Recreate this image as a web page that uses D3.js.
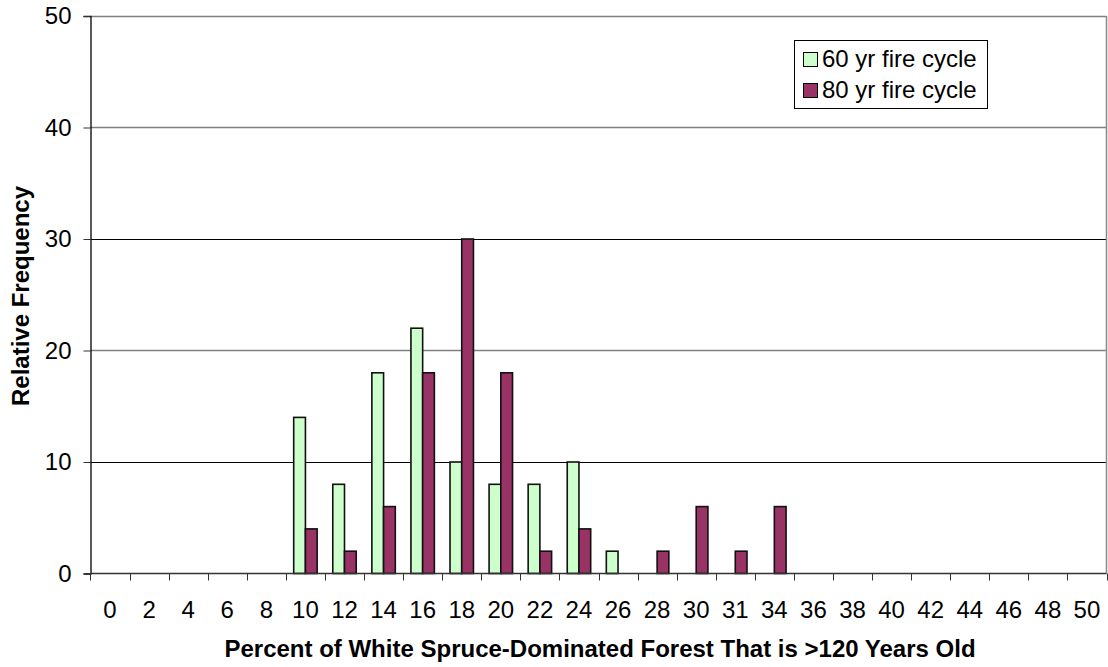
<!DOCTYPE html>
<html>
<head>
<meta charset="utf-8">
<script src="https://cdn.jsdelivr.net/npm/d3@7"></script>
<style>
  html, body { margin: 0; padding: 0; background: #fff; }
  svg { display: block; font-family: "Liberation Sans", Arial, sans-serif; }
</style>
</head>
<body>
<svg id="chart" width="1108" height="667"></svg>
<script>
// Class labels along the x axis (percent of forest older than 120 years)
const categories = ["0","2","4","6","8","10","12","14","16","18","20","22","24","26","28","30","31","34","36","38","40","42","44","46","48","50"];
// Relative frequency for each fire cycle
const cycle60 = [0,0,0,0,0,14,8,18,22,10,8,8,10,2,0,0,0,0,0,0,0,0,0,0,0,0];
const cycle80 = [0,0,0,0,0,4,2,6,18,30,18,2,4,0,2,6,2,6,0,0,0,0,0,0,0,0];
const seriesNames = ["60 yr fire cycle", "80 yr fire cycle"];
const seriesColors = ["#CCFFCC", "#993366"];
const yTicks = [0,10,20,30,40,50];

const svg = d3.select("#chart");
const plotLeft = 90.5, plotRight = 1106.5, plotTop = 16, plotBottom = 573.5;

const x = d3.scaleBand().domain(categories).range([plotLeft, plotRight]).paddingInner(0.4).paddingOuter(0.2);
const xOuter = d3.scaleBand().domain(categories).range([plotLeft, plotRight]);
const y = d3.scaleLinear().domain([0, 50]).range([plotBottom, plotTop]);
const xs = d3.scaleBand().domain([0, 1]).range([0, x.bandwidth()]);

// horizontal gridlines
svg.append("g").selectAll("line").data(yTicks.filter(d => d > 0)).join("line")
  .attr("x1", plotLeft).attr("x2", plotRight)
  .attr("y1", d => Math.round(y(d)) + 0.5).attr("y2", d => Math.round(y(d)) + 0.5)
  .attr("stroke", d => (d === 10 || d === 30) ? "#000" : "#808080")
  .attr("stroke-width", d => (d === 10 || d === 30) ? 1.2 : 1.6);

// right border of plot area
svg.append("line").attr("x1", plotRight).attr("x2", plotRight).attr("y1", plotTop).attr("y2", plotBottom)
  .attr("stroke", "#888").attr("stroke-width", 1.5);

// bars
const series = [cycle60, cycle80];
series.forEach((vals, si) => {
  svg.append("g").selectAll("rect")
    .data(vals.map((v, i) => ({ c: categories[i], v })).filter(d => d.v > 0))
    .join("rect")
    .attr("x", d => x(d.c) + xs(si))
    .attr("width", xs.bandwidth())
    .attr("y", d => y(d.v))
    .attr("height", d => y(0) - y(d.v))
    .attr("fill", seriesColors[si])
    .attr("stroke", "#111")
    .attr("stroke-width", 1.6);
});

// y axis
const yAxis = d3.axisLeft(y).tickValues(yTicks).tickSize(7).tickPadding(12);
const gy = svg.append("g").attr("transform", `translate(${plotLeft},0)`).call(yAxis);
gy.select(".domain").attr("stroke", "#000").attr("stroke-width", 1.3);
gy.selectAll(".tick line").attr("stroke", "#333");
gy.selectAll("text").attr("font-size", 24).attr("fill", "#000")
  .attr("font-family", "Liberation Sans, Arial, sans-serif");

// x axis: ticks at category boundaries, labels centred in each category
const gx = svg.append("g");
gx.append("line").attr("x1", plotLeft).attr("x2", plotRight).attr("y1", plotBottom).attr("y2", plotBottom)
  .attr("stroke", "#333").attr("stroke-width", 1.3);
const bounds = categories.map(c => xOuter(c)).concat([plotRight]);
gx.selectAll("line.tick").data(bounds).join("line").attr("class", "tick")
  .attr("x1", d => Math.round(d) + 0.5).attr("x2", d => Math.round(d) + 0.5)
  .attr("y1", plotBottom).attr("y2", plotBottom + 7).attr("stroke", "#333");
gx.selectAll("text").data(categories).join("text")
  .attr("x", d => xOuter(d) + xOuter.bandwidth() / 2)
  .attr("y", 618)
  .attr("text-anchor", "middle")
  .attr("font-size", 24)
  .text(d => d);

// axis titles
svg.append("text").attr("x", 600).attr("y", 657).attr("text-anchor", "middle")
  .attr("font-size", 24).attr("font-weight", "bold")
  .text("Percent of White Spruce-Dominated Forest That is >120 Years Old");
svg.append("text").attr("transform", "translate(29,296) rotate(-90)").attr("text-anchor", "middle")
  .attr("font-size", 24).attr("font-weight", "bold")
  .text("Relative Frequency");

// legend
const lg = svg.append("g").attr("transform", "translate(794,40)");
lg.append("rect").attr("x", 0.5).attr("y", 0.5).attr("width", 193).attr("height", 68)
  .attr("fill", "#fff").attr("stroke", "#000");
seriesNames.forEach((name, i) => {
  const row = lg.append("g").attr("transform", `translate(0,${19 + i * 31})`);
  row.append("rect").attr("x", 9.5).attr("y", -6.5).attr("width", 14).attr("height", 14)
    .attr("fill", seriesColors[i]).attr("stroke", "#000");
  row.append("text").attr("x", 28).attr("y", 8).attr("font-size", 24).text(name);
});
</script>
</body>
</html>
